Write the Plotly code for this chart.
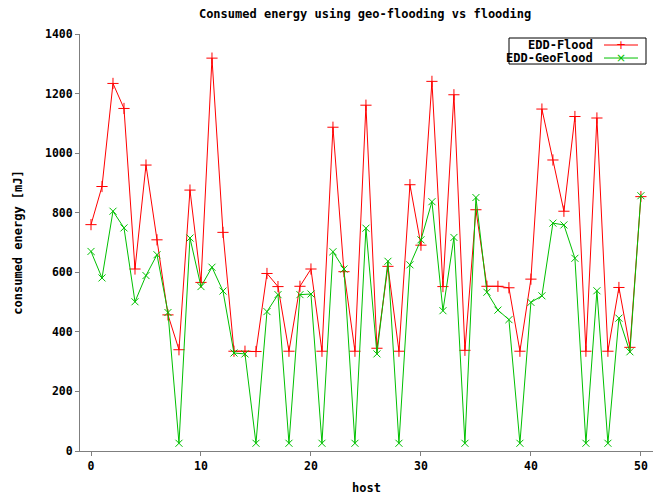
import plotly.graph_objects as go

hosts = list(range(51))
edd_flood = [760, 888, 1234, 1150, 611, 960, 709, 457, 340, 876,
             566, 1319, 734, 335, 335, 334, 596, 552, 335, 553,
             611, 335, 1087, 602, 335, 1161, 345, 620, 335, 894,
             691, 1241, 552, 1196, 338, 810, 553, 553, 548, 335,
             577, 1148, 977, 805, 1123, 335, 1118, 335, 549, 348,
             854]
edd_geoflood = [670, 581, 805, 749, 501, 589, 659, 465, 26, 715,
                552, 617, 537, 329, 326, 26, 468, 525, 26, 525,
                527, 26, 669, 611, 26, 748, 326, 637, 26, 625,
                709, 837, 471, 717, 26, 851, 533, 473, 441, 26,
                499, 521, 765, 759, 647, 26, 538, 26, 446, 333,
                857]
series_names = ["EDD-Flood", "EDD-GeoFlood"]
series_colors = ["#ff0000", "#00c000"]

FONT = "DejaVu Sans Mono"
AX = "#7f7f7f"

fig = go.Figure()
fig.add_trace(go.Scatter(
    x=hosts, y=edd_flood, name=series_names[0], mode="lines+markers",
    line=dict(color=series_colors[0], width=1),
    marker=dict(symbol="cross-thin", size=8, line=dict(color=series_colors[0], width=1))))
fig.add_trace(go.Scatter(
    x=hosts, y=edd_geoflood, name=series_names[1], mode="lines+markers",
    line=dict(color=series_colors[1], width=1),
    marker=dict(symbol="x-thin", size=7, line=dict(color=series_colors[1], width=1))))

# gnuplot-style key (text left of the sample line)
fig.add_shape(type="rect", xref="paper", yref="paper",
              x0=0.7487, x1=0.9878, y0=0.928, y1=0.9904,
              line=dict(color="black", width=1), fillcolor="white", layer="above")
row_y = [0.9736, 0.9424]
glyphs = ["+", "×"]
for name, col, yy, g in zip(series_names, series_colors, row_y, glyphs):
    fig.add_annotation(xref="paper", yref="paper", x=0.8988, y=yy,
                       xanchor="right", yanchor="middle", showarrow=False,
                       text="<b>%s</b>" % name,
                       font=dict(family=FONT, size=12, color="black"))
    fig.add_shape(type="line", xref="paper", yref="paper",
                  x0=0.9145, x1=0.9738, y0=yy, y1=yy,
                  line=dict(color=col, width=1), layer="above")
    fig.add_annotation(xref="paper", yref="paper", x=0.9442, y=yy,
                       xanchor="center", yanchor="middle", showarrow=False,
                       text=g, font=dict(family="DejaVu Sans", size=12, color=col))

# page body has an 8px margin: figure occupies 654x487 starting at (8, 8)
fig.update_layout(
    width=654, height=487,
    margin=dict(l=72, r=9, t=26, b=44, autoexpand=False),
    paper_bgcolor="white", plot_bgcolor="white",
    font=dict(family=FONT, size=12, color="black"),
    title=dict(text="<b>Consumed energy using geo-flooding vs flooding</b>",
               x=0.546, xanchor="center", y=0.988, yanchor="middle",
               yref="container", automargin=False,
               font=dict(family=FONT, size=12)),
    showlegend=False,
)
fig.update_xaxes(
    range=[-1, 51.1], showgrid=False, zeroline=False, automargin=False,
    showline=True, linecolor=AX, linewidth=1,
    ticks="outside", ticklen=4, tickcolor=AX,
    tickvals=[0, 10, 20, 30, 40, 50],
    tickfont=dict(family=FONT, size=11.5, weight="bold"),
    title=dict(text="<b>host</b>", font=dict(family=FONT, size=12), standoff=13),
)
fig.update_yaxes(
    range=[0, 1400], showgrid=False, zeroline=False, automargin=False,
    showline=True, linecolor=AX, linewidth=1,
    ticks="outside", ticklen=4, tickcolor=AX,
    tickvals=[0, 200, 400, 600, 800, 1000, 1200, 1400],
    tickfont=dict(family=FONT, size=11.5, weight="bold"),
    title=dict(text="<b>consumed energy [mJ]</b>", font=dict(family=FONT, size=12), standoff=19),
)

fig.write_html("out.html")
